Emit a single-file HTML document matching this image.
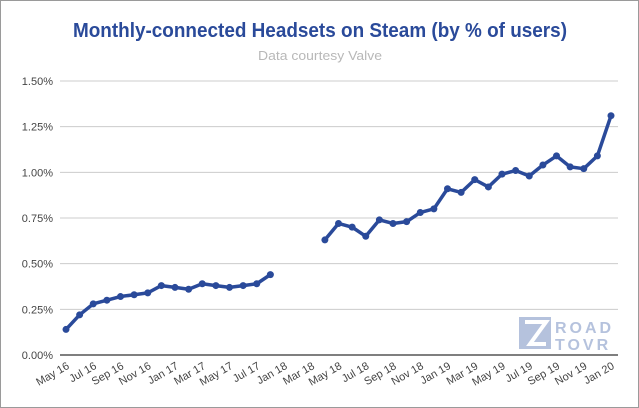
<!DOCTYPE html>
<html><head><meta charset="utf-8"><style>
html,body{margin:0;padding:0;background:#fff}
svg{display:block;font-family:"Liberation Sans",sans-serif}
</style></head><body>
<svg id="chart" width="639" height="408" viewBox="0 0 639 408">
<rect x="0.5" y="0.5" width="638" height="407" fill="#fff" stroke="#9a9a9a"/>
<text x="320" y="37" text-anchor="middle" font-size="20" font-weight="bold" fill="#2a4a9a" textLength="494" lengthAdjust="spacingAndGlyphs">Monthly-connected Headsets on Steam (by % of users)</text>
<text x="320" y="60" text-anchor="middle" font-size="13" fill="#b8b8b8" textLength="124" lengthAdjust="spacingAndGlyphs">Data courtesy Valve</text>
<g id="grid"></g>
<g id="ylabels"></g>
<g id="xlabels"></g>
<g id="series"></g>
<g opacity="0.85">
<rect x="519" y="317" width="32" height="32" fill="#a9b8d8"/>
<path d="M525 322 L546 322 L530 344 L546 344" fill="none" stroke="#fff" stroke-width="4"/>
<text x="555" y="333" font-size="16" font-weight="bold" fill="#a9b8d8" letter-spacing="3">ROAD</text>
<text x="555" y="350" font-size="16" font-weight="bold" fill="#a9b8d8" letter-spacing="3">TOVR</text>
</g>
</svg>
<script>
const categories=["May 16","Jun 16","Jul 16","Aug 16","Sep 16","Oct 16","Nov 16","Dec 16","Jan 17","Feb 17","Mar 17","Apr 17","May 17","Jun 17","Jul 17","Aug 17","Jan 18","Feb 18","Mar 18","Apr 18","May 18","Jun 18","Jul 18","Aug 18","Sep 18","Oct 18","Nov 18","Dec 18","Jan 19","Feb 19","Mar 19","Apr 19","May 19","Jun 19","Jul 19","Aug 19","Sep 19","Oct 19","Nov 19","Dec 19","Jan 20"];
const values=[0.14,0.22,0.28,0.30,0.32,0.33,0.34,0.38,0.37,0.36,0.39,0.38,0.37,0.38,0.39,0.44,null,null,null,0.63,0.72,0.70,0.65,0.74,0.72,0.73,0.78,0.80,0.91,0.89,0.96,0.92,0.99,1.01,0.98,1.04,1.09,1.03,1.02,1.09,1.31];
const yTicks=[0,0.25,0.5,0.75,1.0,1.25,1.5];
const yTickLabels=["0.00%","0.25%","0.50%","0.75%","1.00%","1.25%","1.50%"];
const NS="http://www.w3.org/2000/svg";
const x0=66,x1=611,yBase=355,yTop=81,yMax=1.5;
function xPos(i){return x0+i*(x1-x0)/(categories.length-1);}
function yPos(v){return yBase-v/yMax*(yBase-yTop);}
const grid=document.getElementById('grid'),yl=document.getElementById('ylabels'),xl=document.getElementById('xlabels'),ser=document.getElementById('series');
yTicks.forEach((t,i)=>{
 const l=document.createElementNS(NS,'line');
 
 
 l.setAttribute('x1',60);l.setAttribute('x2',618);l.setAttribute('y1',yPos(t));l.setAttribute('y2',yPos(t));
 l.setAttribute('stroke',t===0?'#333':'#ccc');l.setAttribute('stroke-width',t===0?1.2:1);
 grid.appendChild(l);
 const tx=document.createElementNS(NS,'text');
 
 
 tx.setAttribute('x',53);tx.setAttribute('y',yPos(t)+4);tx.setAttribute('text-anchor','end');tx.setAttribute('font-size','11');tx.setAttribute('fill','#444');
 tx.textContent=yTickLabels[i];yl.appendChild(tx);
});
categories.forEach((c,i)=>{
 if(i%2)return;
 const tx=document.createElementNS(NS,'text');
 
 
 const x=xPos(i)+4,y=368;
 tx.setAttribute('x',x);tx.setAttribute('y',y);tx.setAttribute('text-anchor','end');tx.setAttribute('font-size','11');tx.setAttribute('fill','#444');
 tx.setAttribute('transform','rotate(-30 '+x+' '+y+')');
 tx.textContent=c;xl.appendChild(tx);
});
let seg=[];const segs=[];
values.forEach((v,i)=>{if(v===null){if(seg.length)segs.push(seg);seg=[];}else seg.push([xPos(i),yPos(v)]);});
if(seg.length)segs.push(seg);
segs.forEach(s=>{
 const p=document.createElementNS(NS,'polyline');
 
 
 p.setAttribute('points',s.map(q=>q.join(',')).join(' '));
 p.setAttribute('fill','none');p.setAttribute('stroke','#2a4a9a');p.setAttribute('stroke-width','3.5');p.setAttribute('stroke-linejoin','round');
 ser.appendChild(p);
});
values.forEach((v,i)=>{
 if(v===null)return;
 const c=document.createElementNS(NS,'circle');
 
 
 c.setAttribute('cx',xPos(i));c.setAttribute('cy',yPos(v));c.setAttribute('r','3.5');c.setAttribute('fill','#2a4a9a');
 ser.appendChild(c);
});
</script>
</body></html>
